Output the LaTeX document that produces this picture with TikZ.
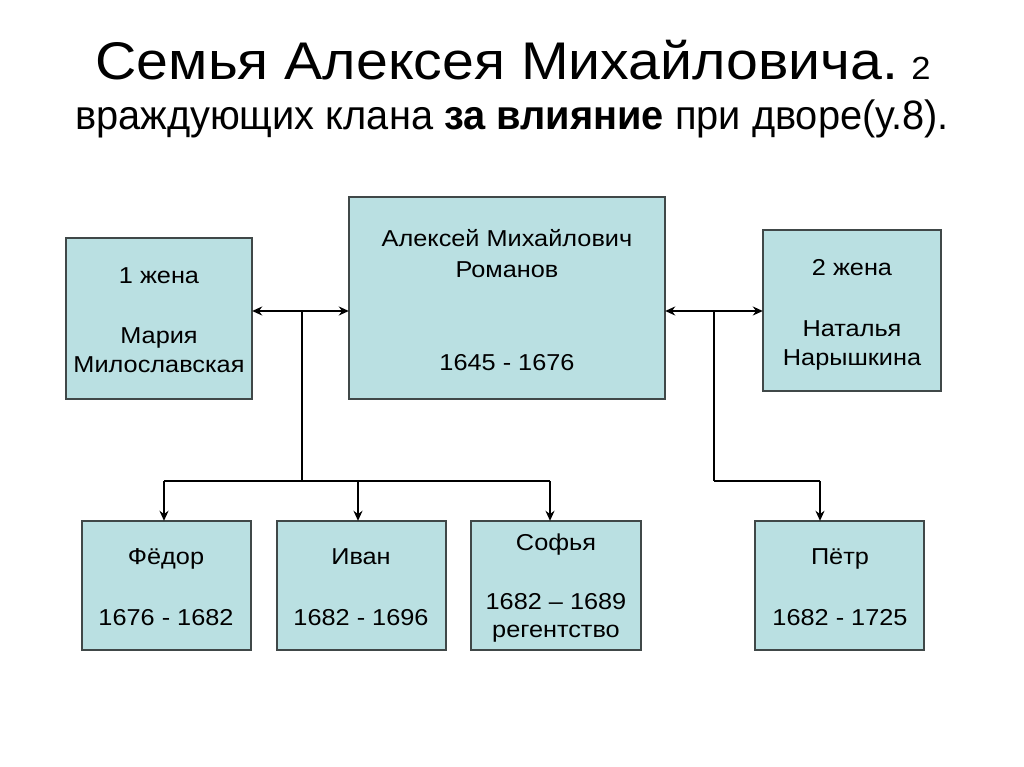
\documentclass[tikz,border=0pt]{standalone}
\usepackage{fontspec}
\setmainfont{Liberation Sans}
\usetikzlibrary{arrows.meta}
\definecolor{boxfill}{HTML}{BAE0E2}
\definecolor{boxline}{HTML}{404848}
\tikzset{
  famibox/.style={draw=boxline, line width=1.2pt, fill=boxfill, inner sep=0pt},
  btxt/.style={font=\fontsize{23}{27}\selectfont, inner sep=0pt, anchor=base},
  conn/.style={line width=1.6pt, draw=black},
  arr/.style={conn, -{Stealth[length=10pt,width=9pt]}},
  darr/.style={conn, {Stealth[length=10pt,width=9pt]}-{Stealth[length=10pt,width=9pt]}}
}
\newcommand{\bt}[1]{\scalebox{1.1}[1]{#1}}
\newcommand{\mkbox}[5]{\path[famibox] (#2,#3) rectangle (#4,#5); \node[inner sep=0pt, minimum width={#4-#2}, minimum height={#5-#3}] (#1) at ({(#2+#4)/2},{(#3+#5)/2}) {};}
\begin{document}
\begin{tikzpicture}[x=1pt,y=-1pt]
\useasboundingbox[fill=white] (0,0) rectangle (1024,767);
% title
\node[inner sep=0pt, anchor=base] (t1) at (513,80) {\scalebox{1.08}[1]{\fontsize{53}{60}\selectfont Семья Алексея Михайловича.\fontsize{32}{36}\selectfont{} 2}};
\node[inner sep=0pt, anchor=base] (t2) at (512,130) {\scalebox{0.97}[1]{\fontsize{41}{46}\selectfont враждующих клана \textbf{за влияние} при дворе(у.8).}};
% boxes
\mkbox{w1}{66}{238}{252}{399}
\mkbox{ak}{349}{197}{665}{399}
\mkbox{w2}{763}{230}{941}{391}
\mkbox{fe}{82}{521}{251}{650}
\mkbox{iv}{277}{521}{446}{650}
\mkbox{so}{471}{521}{641}{650}
\mkbox{pe}{755}{521}{924}{650}
% texts
\node[btxt] (w1a) at (159,283) {\bt{1 жена}};
\node[btxt] (w1b) at (159,343) {\bt{Мария}};
\node[btxt] (w1c) at (159,372) {\bt{Милославская}};
\node[btxt] (aka) at (507,247) {\bt{Алексей Михайлович}};
\node[btxt] (akb) at (507,277) {\bt{Романов}};
\node[btxt] (akc) at (507,370) {\bt{1645 - 1676}};
\node[btxt] (w2a) at (852,275) {\bt{2 жена}};
\node[btxt] (w2b) at (852,336) {\bt{Наталья}};
\node[btxt] (w2c) at (852,365) {\bt{Нарышкина}};
\node[btxt] (fea) at (166,564) {\bt{Фёдор}};
\node[btxt] (feb) at (166,625) {\bt{1676 - 1682}};
\node[btxt] (iva) at (361,564) {\bt{Иван}};
\node[btxt] (ivb) at (361,625) {\bt{1682 - 1696}};
\node[btxt] (soa) at (556,550) {\bt{Софья}};
\node[btxt] (sob) at (556,609) {\bt{1682 – 1689}};
\node[btxt] (soc) at (556,637) {\bt{регентство}};
\node[btxt] (pea) at (840,564) {\bt{Пётр}};
\node[btxt] (peb) at (840,625) {\bt{1682 - 1725}};
% connectors
\coordinate (jl) at (302,311);
\coordinate (bl) at (302,481);
\coordinate (jr) at (714,311);
\coordinate (br) at (714,481);
\coordinate (feh) at (164,481);
\coordinate (ivh) at (358,481);
\coordinate (soh) at (550,481);
\coordinate (peh) at (820,481);
\draw[darr] (w1.east |- jl) -- (ak.west |- jl);
\draw[darr] (ak.east |- jr) -- (w2.west |- jr);
\draw[conn] (jl) -- (bl);
\draw[conn] (jr) -- (br);
\draw[conn] (feh) -- (soh);
\draw[arr] (feh) -- (feh |- fe.north);
\draw[arr] (ivh) -- (ivh |- iv.north);
\draw[arr] (soh) -- (soh |- so.north);
\draw[conn] (br) -- (peh);
\draw[arr] (peh) -- (peh |- pe.north);
\end{tikzpicture}
\end{document}
